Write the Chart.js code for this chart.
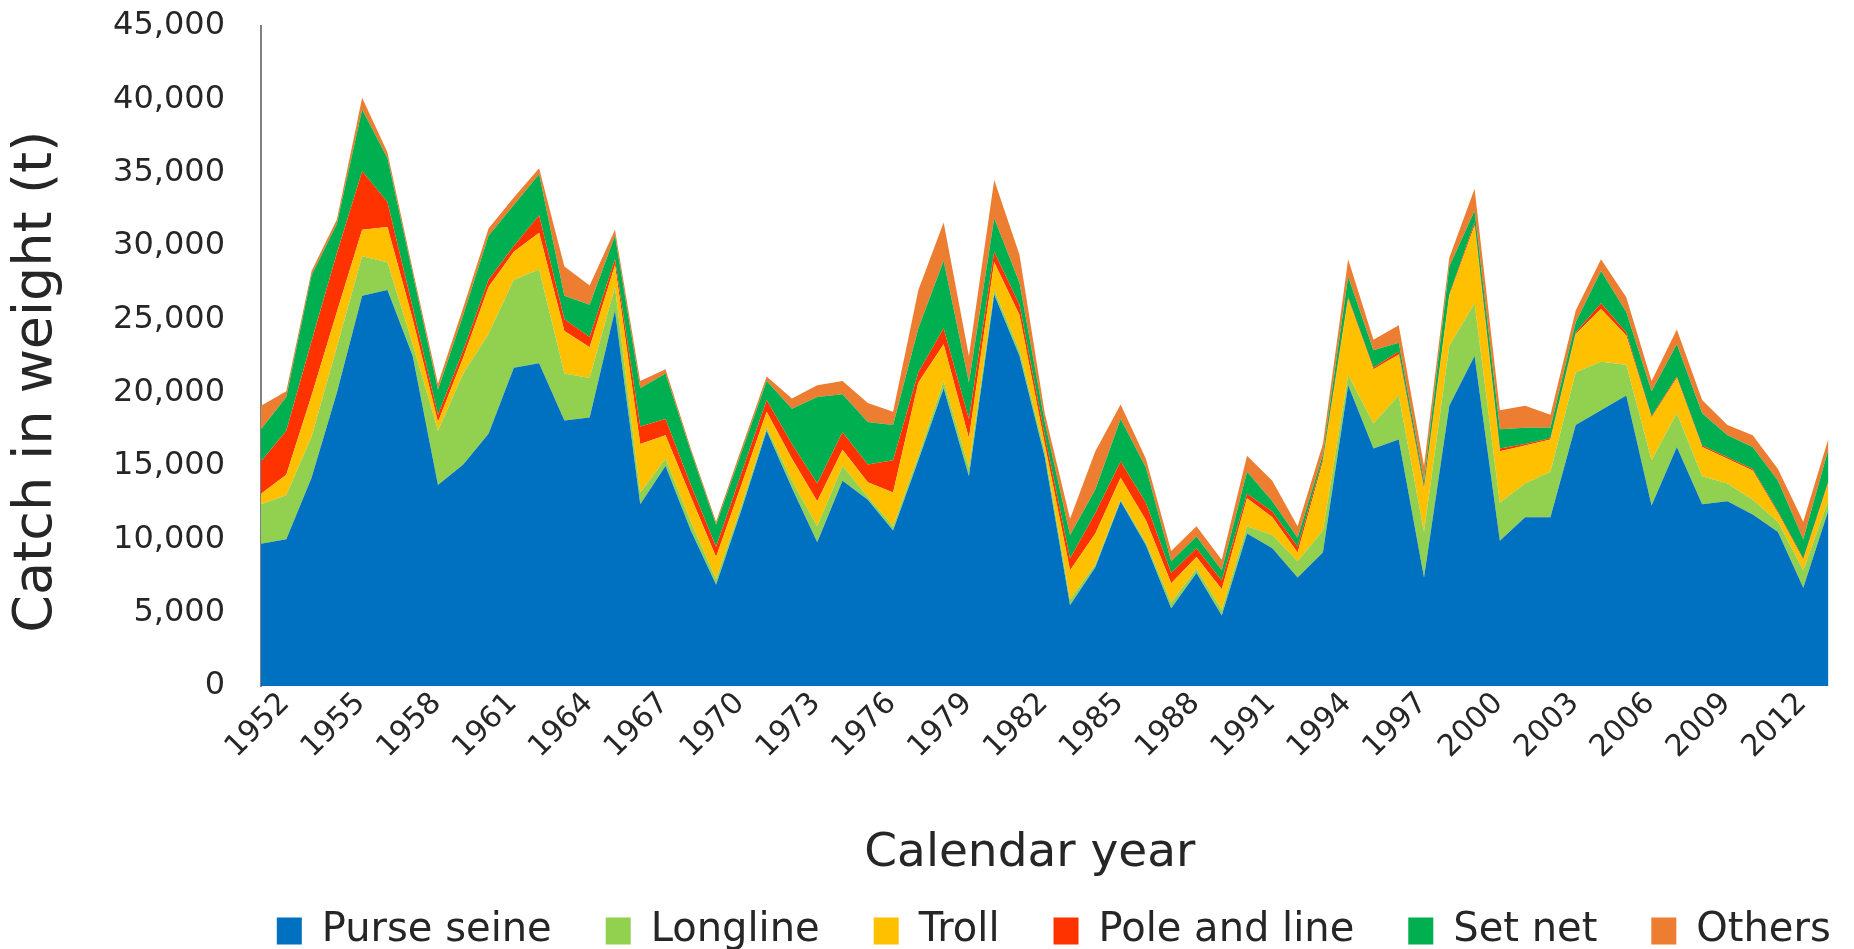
<!DOCTYPE html>
<html>
<head>
<meta charset="utf-8">
<title>Catch in weight by gear</title>
<script src="https://cdn.jsdelivr.net/npm/chart.js@4.4.1/dist/chart.umd.min.js"></script>
<style>
    html, body { margin: 0; padding: 0; background: #ffffff; }
    #wrap { width: 1854px; height: 949px; }
</style>
</head>
<body>
<div id="wrap"><canvas id="catchChart"></canvas></div>
<script>
// Calendar years on the x axis
const years = [
    '1952', '1953', '1954', '1955', '1956', '1957', '1958', '1959', '1960', '1961',
    '1962', '1963', '1964', '1965', '1966', '1967', '1968', '1969', '1970', '1971',
    '1972', '1973', '1974', '1975', '1976', '1977', '1978', '1979', '1980', '1981',
    '1982', '1983', '1984', '1985', '1986', '1987', '1988', '1989', '1990', '1991',
    '1992', '1993', '1994', '1995', '1996', '1997', '1998', '1999', '2000', '2001',
    '2002', '2003', '2004', '2005', '2006', '2007', '2008', '2009', '2010', '2011',
    '2012', '2013', '2014'
];

// Catch by gear (t)
const purseSeine = [
    9700, 10000, 14200, 20000, 26600, 27000, 22500, 13700, 15100, 17200,
    21700, 22000, 18100, 18300, 25600, 12400, 15000, 10600, 6900, 12000,
    17400, 13500, 9800, 14000, 12700, 10600, 15400, 20300, 14300, 26700,
    22500, 15600, 5500, 8100, 12600, 9600, 5300, 7700, 4800, 10400,
    9400, 7400, 9100, 20500, 16200, 16800, 7400, 19100, 22500, 9900,
    11500, 11500, 17800, 18800, 19800, 12300, 16300, 12400, 12600, 11700,
    10500, 6700, 12000
];
const longline = [
    2700, 3000, 2800, 3100, 2700, 1900, 800, 3700, 6200, 6800,
    6000, 6400, 3200, 2700, 1600, 800, 500, 600, 400, 300,
    200, 500, 1100, 1000, 200, 300, 300, 500, 600, 300,
    400, 400, 400, 200, 100, 200, 400, 300, 400, 500,
    900, 1100, 1500, 700, 1700, 3000, 3100, 4100, 3600, 2600,
    2300, 3100, 3600, 3300, 2100, 3100, 2300, 1900, 1200, 1000,
    700, 1200, 700
];
const troll = [
    700, 1400, 2800, 2400, 1800, 2400, 1700, 600, 1100, 3200,
    1900, 2500, 2900, 2100, 1500, 3300, 1600, 1700, 1500, 1400,
    1100, 1500, 1700, 1100, 1000, 2300, 5000, 2500, 2000, 1900,
    2400, 500, 2000, 2100, 1500, 1500, 1300, 800, 1400, 1900,
    1200, 600, 4700, 5200, 3700, 2800, 2900, 3400, 5300, 3500,
    2600, 2200, 2600, 3600, 2000, 2900, 2400, 2000, 1700, 2000,
    600, 700, 1200
];
const poleAndLine = [
    2200, 3000, 3700, 4000, 4000, 1700, 800, 500, 500, 500,
    400, 1200, 800, 700, 400, 1200, 1100, 800, 700, 800,
    800, 1000, 1200, 1200, 1200, 2200, 700, 1100, 1300, 700,
    700, 600, 800, 1400, 1100, 1200, 700, 600, 600, 300,
    400, 400, 200, 100, 100, 200, 200, 100, 200, 200,
    100, 100, 100, 400, 200, 100, 100, 100, 100, 100,
    100, 100, 100
];
const setNet = [
    2200, 2300, 4500, 2000, 4200, 3000, 2300, 1700, 2400, 3000,
    2800, 2800, 1600, 2200, 1600, 2600, 3100, 2300, 1500, 1400,
    1300, 2400, 5900, 2600, 2900, 2400, 3000, 4600, 2500, 2300,
    1500, 900, 1600, 1600, 2900, 2400, 800, 800, 700, 1500,
    700, 600, 300, 1400, 1200, 600, 400, 1900, 800, 1300,
    1100, 700, 700, 2200, 1400, 1700, 2200, 2200, 1500, 1500,
    2100, 1300, 2200
];
const others = [
    1600, 400, 300, 300, 800, 400, 300, 400, 500, 500,
    500, 400, 2000, 1300, 400, 500, 300, 200, 200, 300,
    300, 700, 800, 900, 1300, 900, 2600, 2600, 1800, 2600,
    1900, 600, 1100, 2600, 1000, 600, 700, 700, 700, 1100,
    1400, 800, 700, 1200, 700, 1200, 1000, 600, 1500, 1300,
    1500, 900, 800, 800, 1000, 700, 1000, 900, 700, 800,
    800, 1200, 700
];

const fontFamily = '"DejaVu Sans", Verdana, sans-serif';
const textColor = '#262626';

function areaSeries(label, data, color, fill) {
    return {
        label: label,
        data: data,
        backgroundColor: color,
        borderColor: color,
        borderWidth: 0,
        pointRadius: 0,
        pointHoverRadius: 0,
        tension: 0,
        fill: fill
    };
}

// the legend spans the whole canvas so it fits on one row; move it under the plot
const legendUnderPlot = {
    id: 'legendUnderPlot',
    afterLayout(chart) {
        const legend = chart.legend;
        const area = chart.chartArea;
        const shift = (area.left + area.right) / 2 - (legend.left + legend.right) / 2 + 9;
        legend.left += shift;
        legend.right += shift;
    }
};

new Chart(document.getElementById('catchChart'), {
    type: 'line',
    data: {
        labels: years,
        datasets: [
            areaSeries('Purse seine', purseSeine, '#0070C0', 'origin'),
            areaSeries('Longline', longline, '#92D050', '-1'),
            areaSeries('Troll', troll, '#FFC000', '-1'),
            areaSeries('Pole and line', poleAndLine, '#FF3300', '-1'),
            areaSeries('Set net', setNet, '#00B050', '-1'),
            areaSeries('Others', others, '#ED7D31', '-1')
        ]
    },
    options: {
        responsive: true,
        maintainAspectRatio: false,
        animation: false,
        devicePixelRatio: 1,
        layout: {
            padding: { left: 0, right: 13, top: 26, bottom: -12 }
        },
        plugins: {
            legend: {
                position: 'bottom',
                fullSize: true,
                labels: {
                    boxWidth: 25,
                    boxHeight: 27,
                    padding: 54,
                    color: textColor,
                    font: { family: fontFamily, size: 40 }
                }
            },
            tooltip: { enabled: false }
        },
        scales: {
            x: {
                grid: { display: false, drawTicks: false },
                border: { display: false },
                afterFit: (scale) => { scale.height = 171; },
                ticks: {
                    autoSkip: false,
                    maxRotation: 45,
                    minRotation: 45,
                    padding: 0,
                    labelOffset: 24,
                    color: textColor,
                    font: { family: fontFamily, size: 30 },
                    callback: function (value, index) {
                        return index % 3 === 0 ? this.getLabelForValue(value) : '';
                    }
                },
                title: {
                    display: true,
                    // trailing spaces nudge the centred title a little to the left
                    text: 'Calendar year  ',
                    color: textColor,
                    font: { family: fontFamily, size: 47 },
                    padding: { top: 0, bottom: -25 }
                }
            },
            y: {
                stacked: true,
                min: 0,
                max: 45000,
                afterFit: (scale) => { scale.width = 261; },
                // tick marks are hidden; their length only sets the gap to the labels
                grid: { display: false, drawTicks: true, tickLength: 36 },
                border: { display: true, color: '#808080', width: 2 },
                ticks: {
                    stepSize: 5000,
                    padding: 0,
                    color: textColor,
                    font: { family: fontFamily, size: 32 },
                    callback: (value) => value.toLocaleString('en-US')
                },
                title: {
                    display: true,
                    // trailing spaces push the rotated title slightly down
                    text: 'Catch in weight (t)   ',
                    color: textColor,
                    font: { family: fontFamily, size: 54 },
                    padding: { top: 5, bottom: 0 }
                }
            }
        }
    },
    plugins: [legendUnderPlot]
});
</script>
</body>
</html>
